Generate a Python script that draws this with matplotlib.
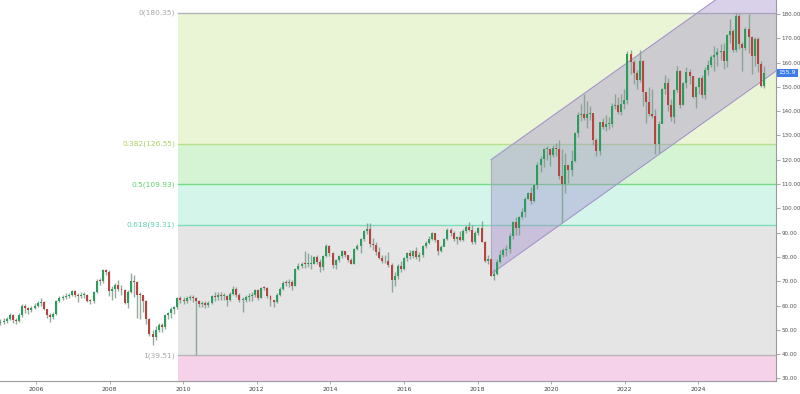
import matplotlib
matplotlib.use("Agg")
import matplotlib.pyplot as plt
import numpy as np
from matplotlib.patches import Polygon

# ---------------- data (monthly candles, Jan 2005 .. Aug 2025) ----------------
years = list(range(2005, 2026))
close_by_year = {
    2005: [53.0, 53.3, 53.5, 54.5, 56.0, 54.0, 53.5, 56.0, 60.0, 59.0, 58.2, 59.0],
    2006: [60.0, 61.0, 61.5, 58.5, 56.0, 55.5, 56.5, 62.0, 63.0, 63.5, 64.0, 64.3],
    2007: [66.0, 64.5, 64.0, 64.5, 64.5, 62.0, 61.8, 65.5, 70.3, 70.0, 74.5, 74.0],
    2008: [66.0, 67.0, 68.5, 67.0, 66.5, 61.0, 65.5, 70.0, 69.7, 64.5, 64.3, 61.8],
    2009: [54.5, 48.5, 47.0, 50.0, 52.0, 51.0, 56.0, 57.0, 58.8, 59.5, 63.0, 62.5],
    2010: [62.0, 63.3, 63.5, 63.0, 62.0, 60.8, 61.0, 60.3, 61.0, 63.8, 63.5, 64.3],
    2011: [64.0, 64.0, 62.5, 64.8, 67.0, 64.5, 62.5, 62.5, 63.5, 64.0, 64.5, 66.5],
    2012: [63.3, 67.3, 67.2, 63.8, 62.5, 61.5, 64.5, 67.0, 69.4, 69.3, 69.8, 68.0],
    2013: [75.1, 76.5, 77.2, 77.0, 77.0, 77.0, 80.0, 78.0, 75.8, 80.5, 84.5, 81.5],
    2014: [76.6, 78.7, 80.6, 82.5, 80.8, 78.6, 77.3, 83.1, 84.5, 87.5, 90.8, 91.5],
    2015: [85.5, 85.0, 82.0, 79.5, 78.4, 78.2, 76.7, 70.7, 72.0, 76.5, 75.0, 79.4],
    2016: [81.7, 80.3, 82.3, 80.1, 81.0, 84.7, 85.6, 87.3, 89.8, 86.8, 82.5, 84.1],
    2017: [87.6, 91.1, 89.9, 87.3, 88.1, 87.2, 90.8, 92.3, 91.0, 86.3, 90.0, 91.9],
    2018: [86.3, 78.5, 79.3, 72.3, 73.2, 78.0, 80.9, 83.0, 83.2, 88.7, 94.5, 91.9],
    2019: [96.5, 98.6, 104.0, 106.5, 102.9, 109.6, 118.0, 120.2, 124.4, 124.5, 122.0, 124.9],
    2020: [124.6, 113.2, 110.0, 117.9, 115.9, 119.6, 131.1, 138.3, 139.0, 137.1, 138.9, 139.1],
    2021: [128.2, 123.5, 135.4, 133.4, 134.9, 134.9, 142.2, 142.4, 139.8, 143.0, 144.6, 163.6],
    2022: [160.4, 155.9, 152.8, 160.5, 147.9, 143.8, 138.9, 138.0, 126.3, 134.7, 149.2, 151.6],
    2023: [142.4, 137.5, 148.7, 156.4, 142.5, 151.7, 156.3, 154.3, 145.9, 150.0, 153.5, 146.5],
    2024: [157.1, 159.0, 162.3, 163.2, 164.5, 164.9, 160.8, 171.5, 173.2, 165.2, 179.3, 167.7],
    2025: [166.0, 173.8, 170.4, 162.6, 169.9, 159.3, 150.5, 155.9],
}
high_by_year = {
    2005: [54.5, 54.5, 55.0, 55.5, 57.0, 56.5, 55.0, 57.0, 60.5, 60.5, 59.5, 60.0],
    2006: [61.0, 62.0, 63.0, 62.0, 58.5, 57.0, 57.5, 62.5, 63.8, 64.5, 65.0, 65.0],
    2007: [66.5, 66.5, 65.0, 65.5, 65.5, 64.8, 62.8, 66.0, 71.0, 71.5, 75.0, 75.2],
    2008: [74.5, 68.0, 69.5, 70.5, 68.5, 67.0, 66.5, 73.4, 72.5, 70.0, 65.5, 64.5],
    2009: [62.5, 55.0, 50.0, 51.5, 53.0, 53.0, 56.5, 57.5, 59.5, 60.0, 63.5, 64.0],
    2010: [63.5, 64.0, 64.5, 64.5, 63.5, 62.5, 62.0, 61.8, 62.0, 64.5, 65.5, 65.5],
    2011: [65.5, 65.0, 64.5, 65.5, 68.0, 67.5, 65.0, 63.5, 64.5, 65.0, 65.5, 67.0],
    2012: [67.0, 67.8, 68.0, 67.5, 64.5, 62.5, 65.0, 67.5, 70.0, 70.5, 71.0, 70.5],
    2013: [75.5, 77.5, 78.0, 82.5, 81.5, 81.0, 80.5, 81.0, 79.0, 81.0, 85.5, 85.0],
    2014: [82.0, 79.0, 81.0, 83.0, 82.5, 81.0, 79.5, 83.5, 85.5, 88.0, 91.0, 93.9],
    2015: [93.9, 88.0, 86.0, 84.0, 81.0, 81.0, 82.0, 77.5, 74.0, 77.0, 78.5, 79.8],
    2016: [82.0, 83.0, 83.0, 84.0, 82.0, 85.0, 86.5, 88.5, 90.3, 90.0, 87.0, 85.0],
    2017: [88.0, 92.0, 92.0, 90.5, 88.5, 90.5, 91.5, 93.0, 94.5, 93.0, 90.5, 92.5],
    2018: [94.7, 86.5, 81.0, 79.5, 75.0, 79.0, 83.0, 83.5, 85.0, 90.0, 95.0, 96.5],
    2019: [97.0, 100.0, 104.5, 106.8, 109.0, 110.0, 119.0, 121.5, 125.0, 125.5, 125.0, 126.0],
    2020: [127.0, 128.0, 124.5, 123.0, 118.0, 124.0, 131.5, 139.5, 143.0, 146.9, 144.0, 142.0],
    2021: [138.5, 129.0, 135.5, 137.0, 138.5, 137.5, 143.5, 147.0, 146.0, 147.0, 149.0, 164.9],
    2022: [165.35, 161.0, 157.0, 165.0, 161.0, 147.0, 150.0, 149.0, 141.0, 136.0, 149.5, 155.0],
    2023: [153.5, 145.0, 149.0, 158.4, 157.0, 152.0, 158.0, 157.5, 154.5, 150.5, 154.0, 155.0],
    2024: [158.0, 161.0, 163.0, 167.0, 166.0, 167.5, 168.0, 171.9, 177.9, 174.0, 180.35, 180.0],
    2025: [168.5, 174.5, 180.0, 171.0, 170.5, 170.5, 160.5, 158.5],
}
low_by_year = {
    2005: [51.5, 52.0, 52.5, 53.0, 54.0, 53.0, 52.5, 53.2, 55.5, 57.0, 56.5, 57.5],
    2006: [58.5, 59.5, 60.0, 58.0, 55.0, 53.4, 54.5, 56.0, 61.5, 62.5, 62.8, 63.0],
    2007: [64.0, 63.5, 61.6, 63.0, 63.2, 61.5, 60.5, 61.0, 65.0, 68.5, 69.5, 72.5],
    2008: [64.0, 62.5, 63.0, 66.0, 64.5, 60.5, 59.0, 65.0, 63.5, 54.9, 54.5, 57.5],
    2009: [52.5, 47.5, 43.9, 46.0, 49.0, 49.0, 50.5, 54.5, 55.0, 56.5, 58.5, 61.0],
    2010: [60.5, 61.0, 62.5, 61.5, 39.51, 59.5, 59.5, 59.0, 59.5, 60.5, 62.0, 62.5],
    2011: [62.5, 62.5, 60.0, 62.0, 64.5, 63.5, 61.5, 57.5, 61.5, 62.0, 62.0, 63.5],
    2012: [62.5, 63.0, 66.5, 63.0, 60.0, 59.5, 61.0, 64.0, 66.5, 68.0, 67.5, 66.5],
    2013: [68.0, 74.5, 75.5, 75.5, 76.0, 75.0, 77.0, 77.0, 74.0, 74.5, 80.0, 80.5],
    2014: [75.5, 75.0, 78.0, 79.5, 80.0, 78.0, 77.0, 77.0, 83.0, 81.5, 86.5, 89.5],
    2015: [84.0, 83.0, 81.0, 79.0, 77.5, 77.5, 76.0, 65.5, 68.0, 71.0, 74.0, 74.5],
    2016: [78.5, 79.0, 79.5, 79.0, 78.5, 80.0, 83.5, 85.5, 87.0, 86.0, 81.0, 82.0],
    2017: [85.5, 87.0, 88.5, 86.5, 85.5, 86.5, 86.5, 90.0, 90.5, 85.5, 85.5, 89.0],
    2018: [86.0, 78.0, 77.0, 72.0, 70.7, 72.5, 77.5, 80.0, 80.5, 81.5, 87.5, 89.0],
    2019: [89.0, 95.5, 96.5, 104.0, 102.0, 102.5, 108.0, 115.0, 117.0, 120.0, 117.5, 121.0],
    2020: [121.5, 112.0, 94.3, 106.5, 110.5, 113.5, 119.0, 129.5, 136.0, 136.5, 133.0, 136.5],
    2021: [126.0, 121.5, 122.0, 132.5, 132.0, 132.5, 133.5, 141.0, 139.0, 138.5, 141.0, 143.0],
    2022: [155.5, 151.0, 149.0, 152.0, 142.0, 135.0, 138.0, 137.0, 122.2, 123.0, 135.0, 147.0],
    2023: [140.0, 136.0, 135.0, 148.0, 141.5, 142.5, 149.5, 151.0, 145.5, 141.5, 147.0, 145.5],
    2024: [145.0, 155.0, 158.0, 156.5, 158.5, 161.0, 157.5, 158.0, 168.0, 164.5, 164.5, 165.5],
    2025: [156.5, 165.0, 164.0, 155.5, 158.5, 156.0, 149.9, 149.5],
}
first_open = 53.5
last_price = 155.9

# Fibonacci retracement (drawing tool) anchors
fib_high = 180.35
fib_low = 39.51
fib_ratios = [0, 0.382, 0.5, 0.618, 1]
fib_start_month = 58.15          # month index where the drawing starts
# channel (drawing tool) anchors: (month index, price)
chan_p1 = (159.0, 73.0)
chan_p2 = (250.85, 156.5)
chan_width = 47.0

year_labels = list(range(2006, 2026, 2))

# ---------------- build arrays ----------------
C = np.array(sum((close_by_year[y] for y in years), []))
H = np.array(sum((high_by_year[y] for y in years), []))
L = np.array(sum((low_by_year[y] for y in years), []))
O = np.concatenate([[first_open], C[:-1]])
idx = np.arange(len(C))

fig = plt.figure(figsize=(8.0, 3.94), dpi=100)
ax = fig.add_axes([0.0, 13 / 394, 776 / 800, 381 / 394])
x_left, x_right = 0.86, 250.85
ax.set_xlim(x_left, x_right)
ax.set_ylim(28.97, 185.76)

# ---- Fibonacci zones ----
levels = [fib_high - r * (fib_high - fib_low) for r in fib_ratios]
zone_colors = ["#e9f5d4", "#d4f4d4", "#d3f5ea", "#e5e5e5"]
line_colors = ["#b4b4b4", "#b9e08c", "#74dc80", "#7cdcb8", "#b8b8b8"]
text_colors = ["#a9a9a9", "#a8d25e", "#62d06e", "#5cd3a8", "#a9a9a9"]
xr = [fib_start_month, 300]
for i in range(4):
    ax.fill_between(xr, levels[i + 1], levels[i], color=zone_colors[i], lw=0, zorder=0)
ax.fill_between(xr, 0, levels[4], color="#f5d2ea", lw=0, zorder=0)
for r, lv, lc, tc in zip(fib_ratios, levels, line_colors, text_colors):
    ax.plot(xr, [lv, lv], color=lc, lw=1.0, zorder=1)
    ax.text(fib_start_month - 0.8, lv, f"{r:g}({lv:.2f})", ha="right", va="center",
            fontsize=5.4, color=tc, zorder=5)

# ---- channel ----
slope = (chan_p2[1] - chan_p1[1]) / (chan_p2[0] - chan_p1[0])
xe = 270
lo_e = chan_p1[1] + slope * (xe - chan_p1[0])
poly = Polygon([(chan_p1[0], chan_p1[1]), (xe, lo_e), (xe, lo_e + chan_width),
                (chan_p1[0], chan_p1[1] + chan_width)], closed=True,
               facecolor=(0.63, 0.55, 0.80, 0.40), edgecolor="none", zorder=2)
ax.add_patch(poly)
ax.plot([chan_p1[0], xe], [chan_p1[1], lo_e], color="#a595cc", lw=0.8, zorder=2)
ax.plot([chan_p1[0], xe], [chan_p1[1] + chan_width, lo_e + chan_width],
        color="#a595cc", lw=0.8, zorder=2)
ax.plot([chan_p1[0], chan_p1[0]], [chan_p1[1], chan_p1[1] + chan_width],
        color="#a8a8b8", lw=0.6, zorder=2)

# ---- candles ----
up = C >= O
green, red = "#2a9d5c", "#b8433d"
ax.vlines(idx, L, H, color="#7f9c8c", lw=1.0, alpha=0.85, zorder=3)
body_lo = np.minimum(O, C)
body_h = np.maximum(np.abs(C - O), 0.35)
ax.bar(idx[up], body_h[up], bottom=body_lo[up], width=0.64, color=green, lw=0, zorder=4)
ax.bar(idx[~up], body_h[~up], bottom=body_lo[~up], width=0.64, color=red, lw=0, zorder=4)

# ---- axes styling ----
for s in ["left", "top"]:
    ax.spines[s].set_visible(False)
ax.spines["right"].set_color("#9a9a9a")
ax.spines["bottom"].set_color("#9a9a9a")
ax.spines["right"].set_linewidth(0.8)
ax.spines["bottom"].set_linewidth(0.8)
ax.yaxis.tick_right()
ax.set_yticks(np.arange(30, 181, 10))
ax.set_yticklabels([f"{v:.2f}" for v in np.arange(30, 181, 10)])
ax.tick_params(axis="y", length=3, width=0.6, color="#9a9a9a", labelsize=4.1,
               labelcolor="#555555", pad=1.2)
# year labels sit at the positions they occupy on the reference axis
tick_pos = [12.45 + (y - 2006) * 11.855 for y in year_labels]
ax.set_xticks(tick_pos)
ax.set_xticklabels([str(y) for y in year_labels])
ax.tick_params(axis="x", length=2.5, width=0.6, color="#9a9a9a", labelsize=4.4,
               labelcolor="#444444", pad=1.5)

ax.annotate(f"{last_price:.1f}", xy=(1.0, last_price), xycoords=("axes fraction", "data"),
            xytext=(2.0, 0), textcoords="offset points", ha="left", va="center",
            fontsize=4.4, color="white", annotation_clip=False,
            bbox=dict(boxstyle="square,pad=0.25", fc="#3f7de6", ec="none"))

fig.savefig("out.png", dpi=100)
